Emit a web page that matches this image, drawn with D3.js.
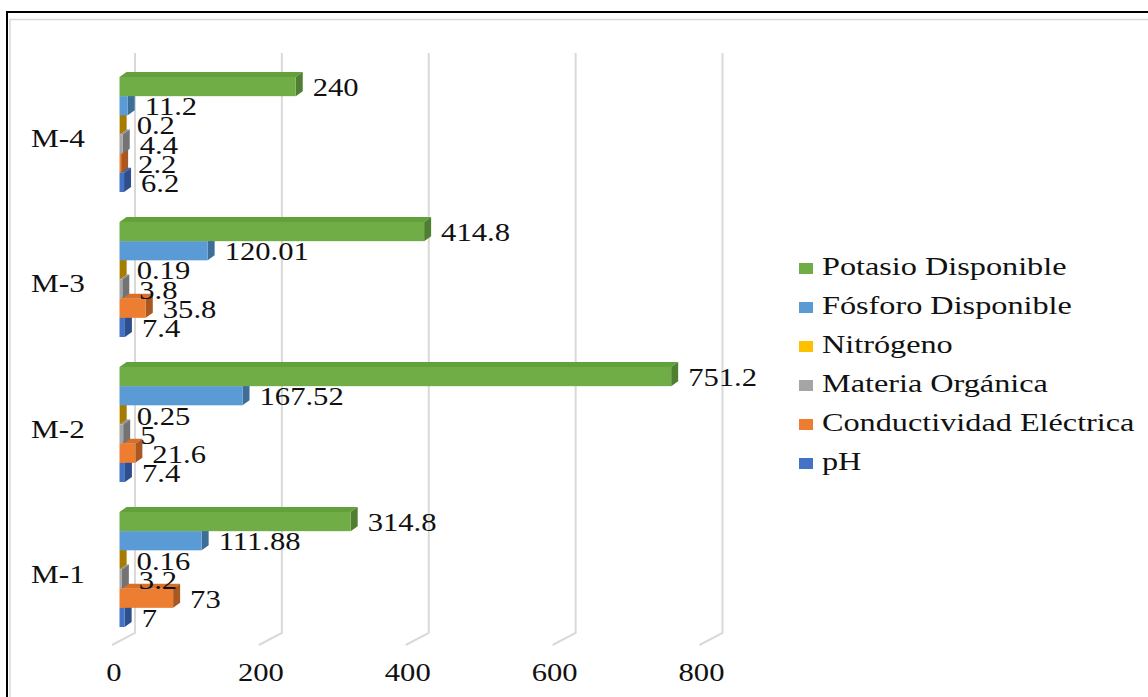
<!DOCTYPE html>
<html>
<head>
<meta charset="utf-8">
<script src="https://cdn.jsdelivr.net/npm/d3@7"></script>
<style>
  html, body { margin: 0; padding: 0; background: #fff; }
  svg { display: block; }
  text { font-family: "Liberation Serif", "Times New Roman", serif; fill: #111; }
</style>
</head>
<body>
<svg id="chart" width="1148" height="697"></svg>
<script>
// Muestras de suelo (de arriba hacia abajo en el gráfico)
const categories = ["M-4", "M-3", "M-2", "M-1"];

// Series en orden de apilado dentro de cada grupo (de arriba hacia abajo)
const seriesNames = [
  "Potasio Disponible",
  "Fósforo Disponible",
  "Nitrógeno",
  "Materia Orgánica",
  "Conductividad Eléctrica",
  "pH"
];

// Valores por serie, en el mismo orden que categories (M-4, M-3, M-2, M-1)
const potasio       = [240, 414.8, 751.2, 314.8];
const fosforo       = [11.2, 120.01, 167.52, 111.88];
const nitrogeno     = [0.2, 0.19, 0.25, 0.16];
const materia       = [4.4, 3.8, 5, 3.2];
const conductividad = [2.2, 35.8, 21.6, 73];
const ph            = [6.2, 7.4, 7.4, 7];

const seriesValues = [potasio, fosforo, nitrogeno, materia, conductividad, ph];

const xTicks = [0, 200, 400, 600, 800];

// Colores: frente, cara superior, cara lateral
const palette = [
  { front: "#70AD47", top: "#62a03c", side: "#4f7f30" },
  { front: "#5B9BD5", top: "#4f8cc4", side: "#3d6e98" },
  { front: "#FFC000", top: "#d9a400", side: "#a57b00" },
  { front: "#A5A5A5", top: "#939393", side: "#737373" },
  { front: "#ED7D31", top: "#d56f2a", side: "#a95821" },
  { front: "#4472C4", top: "#3b64ad", side: "#2e4f8c" }
];

const svg = d3.select("#chart");
const W = 1148, H = 697;
const sx = 1.25;       // estiramiento horizontal del texto
const sxLegend = 1.29; // estiramiento de la leyenda

// Marco
svg.append("rect").attr("x", 7).attr("y", 12).attr("width", W + 20).attr("height", H + 20)
  .attr("fill", "#fff").attr("stroke", "#000").attr("stroke-width", 2);
svg.append("rect").attr("x", 10).attr("y", 19.5).attr("width", W + 20).attr("height", H + 20)
  .attr("fill", "none").attr("stroke", "#d9d9d9").attr("stroke-width", 1.5);

// Escalas
const x = d3.scaleLinear().domain([0, 800]).range([119.5, 707]);
const y = d3.scaleBand().domain(categories).range([77, 627]).paddingInner(0.2069);
const yInner = d3.scaleBand().domain(seriesNames).range([0, y.bandwidth()]);

// Desplazamientos de perspectiva
const wallDx = 15.5, floorDx = -7.5;
const depthDx = 7, depthDy = -5;
const gridTop = 53, gridBottom = 633, floorDrop = 12;

// Líneas de cuadrícula (pared posterior + suelo)
svg.append("g").selectAll("path").data(xTicks).join("path")
  .attr("d", v => {
    const xb = x(v) + wallDx, xf = x(v) + floorDx;
    return `M${xb},${gridTop}L${xb},${gridBottom}L${xf},${gridBottom + floorDrop}`;
  })
  .attr("fill", "none").attr("stroke", "#d9d9d9").attr("stroke-width", 2);

// Etiquetas del eje X
svg.append("g").selectAll("text").data(xTicks).join("text")
  .attr("transform", v => `translate(${x(v) + floorDx + 2},681) scale(${sx},1)`)
  .attr("text-anchor", "middle").attr("font-size", 24.5)
  .text(v => v);

// Etiquetas de categorías
svg.append("g").selectAll("text").data(categories).join("text")
  .attr("transform", c => `translate(31,${y(c) + y.bandwidth() / 2 + 13}) scale(${sx},1)`)
  .attr("font-size", 25)
  .text(c => c);

// Barras 3D: se dibujan de abajo hacia arriba para que las superiores cubran las caras ocultas
const barsG = svg.append("g");
const bars = [];
categories.forEach((c, ci) => {
  seriesNames.forEach((s, si) => {
    bars.push({ cat: c, series: s, si, value: seriesValues[si][ci] });
  });
});
const drawOrder = bars.slice().sort((a, b) => {
  const ya = y(a.cat) + yInner(a.series), yb = y(b.cat) + yInner(b.series);
  return yb - ya;
});

drawOrder.forEach(d => {
  const g = barsG.append("g");
  const x0 = x(0), x1 = x(d.value);
  const y0 = y(d.cat) + yInner(d.series), y1 = y0 + yInner.bandwidth();
  const col = palette[d.si];
  g.append("path")
    .attr("d", `M${x0},${y0}L${x1},${y0}L${x1 + depthDx},${y0 + depthDy}L${x0 + depthDx},${y0 + depthDy}Z`)
    .attr("fill", col.top);
  g.append("path")
    .attr("d", `M${x1},${y0}L${x1 + depthDx},${y0 + depthDy}L${x1 + depthDx},${y1 + depthDy}L${x1},${y1}Z`)
    .attr("fill", col.side);
  g.append("rect")
    .attr("x", x0).attr("y", y0).attr("width", Math.max(0, x1 - x0)).attr("height", y1 - y0)
    .attr("fill", col.front);
});

// Etiquetas de valores
const labelsG = svg.append("g");
drawOrder.forEach(d => {
  const y1 = y(d.cat) + yInner(d.series) + yInner.bandwidth();
  labelsG.append("text")
    .attr("transform", `translate(${x(d.value) + 17},${y1}) scale(${sx},1)`)
    .attr("font-size", 24.5)
    .text(d.value);
});

// Leyenda
const legend = svg.append("g");
seriesNames.forEach((s, i) => {
  const by = 275 + i * 39;
  legend.append("rect").attr("x", 799).attr("y", by - 12).attr("width", 14).attr("height", 11)
    .attr("fill", palette[i].front);
  legend.append("text")
    .attr("transform", `translate(822,${by}) scale(${sxLegend},1)`)
    .attr("font-size", 25)
    .text(s);
});
</script>
</body>
</html>
